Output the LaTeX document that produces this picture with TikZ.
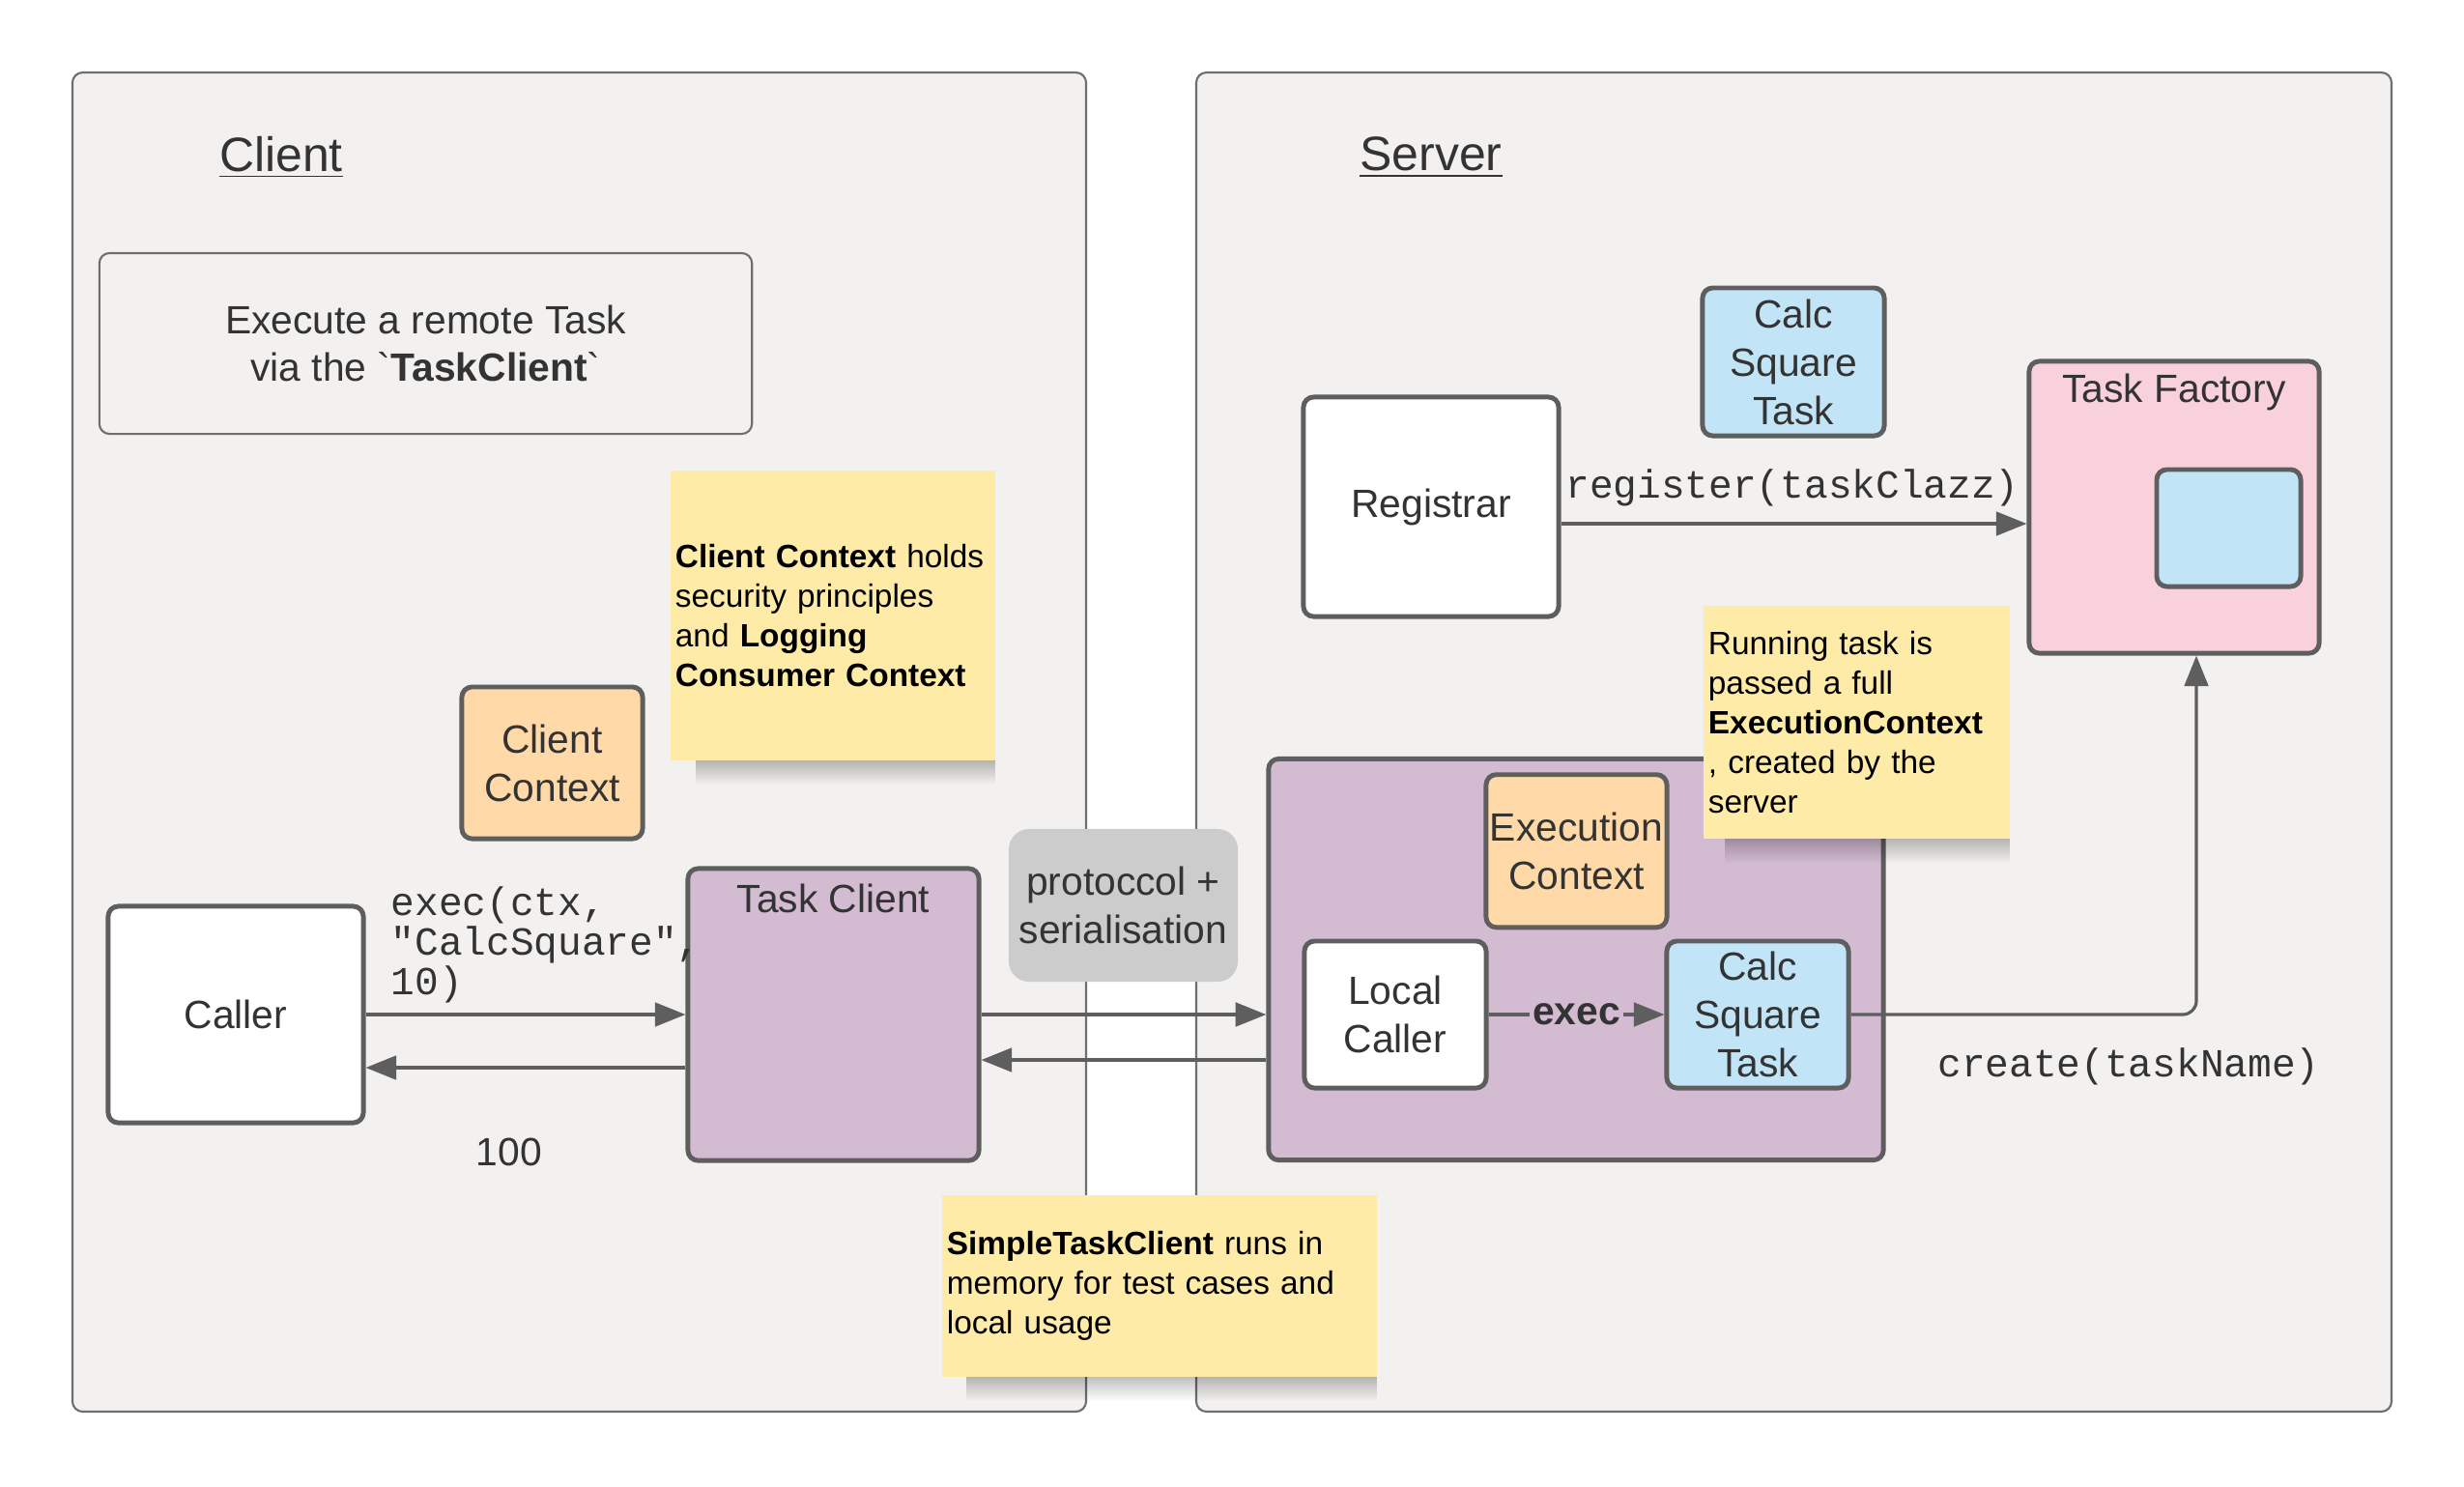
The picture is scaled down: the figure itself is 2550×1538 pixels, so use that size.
\documentclass[tikz,border=0pt]{standalone}
\usepackage{fontspec}
\setmainfont{Liberation Sans}
\setmonofont{Liberation Mono}
\usetikzlibrary{arrows.meta}
\usetikzlibrary{fadings}

\definecolor{panelfill}{HTML}{F2F1EF}
\definecolor{panelline}{HTML}{6E6E6E}
\definecolor{boxline}{HTML}{5E5E5E}
\definecolor{textgray}{HTML}{333333}
\definecolor{lavender}{HTML}{D3BBD2}
\definecolor{peach}{HTML}{FFDAA8}
\definecolor{skyblue}{HTML}{C1E4F6}
\definecolor{pinkbox}{HTML}{F9D1DD}
\definecolor{notey}{HTML}{FFEBA8}
\definecolor{protogray}{HTML}{CCCCCC}

\tikzset{
  panel/.style={draw=panelline, fill=panelfill, line width=0.6pt, rounded corners=3pt},
  blok/.style={draw=boxline, line width=1.4pt, rounded corners=3pt, text=textgray,
    align=center, inner sep=0pt, font=\fontsize{11.6}{14.2}\selectfont},
  lbl/.style={text=textgray, inner sep=0pt, font=\fontsize{11.6}{14.2}\selectfont},
  title/.style={text=textgray, inner sep=0pt, font=\fontsize{14.2}{17}\selectfont},
  note/.style={fill=notey, align=left, inner xsep=0.05cm, inner ysep=0.09cm, text=black,
    font=\fontsize{9.5}{11.66}\selectfont},
  code/.style={text=textgray, inner sep=0pt, font=\ttfamily\fontsize{11.7}{11.66}\selectfont},
  flow/.style={draw=boxline, line width=0.9pt}
}

\begin{document}
\begin{tikzpicture}[x=0.01cm,y=-0.01cm,line join=round,
>={Triangle[length=9pt,width=7pt]}]
\useasboundingbox (0,0) rectangle (2550,1538);

% Client and Server panels
\draw[panel] (75,75) rectangle (1124,1461);
\draw[panel] (1238,75) rectangle (2475,1461);
\node[title] (clienthead) at (291,163) {\underline{Client}};
\node[title] (serverhead) at (1481,163) {\underline{Server}};

% client side
\node[draw=panelline, line width=0.6pt, rounded corners=3pt, align=center, text=textgray,
  font=\fontsize{11.6}{13.9}\selectfont, minimum width=6.75cm, minimum height=1.87cm]
  (goal) at (440.5,355.5) {Execute a remote Task\\via the \textasciigrave\textbf{TaskClient}\textasciigrave};
\node[blok, fill=peach, minimum width=1.87cm, minimum height=1.57cm] (cctx) at (571.5,789.5) {Client\\Context};
\node[blok, fill=white, minimum width=2.64cm, minimum height=2.24cm] (caller) at (244,1050) {Caller};
\node[blok, fill=lavender, minimum width=3.01cm, minimum height=3.02cm,
  label={[lbl, anchor=center, yshift=-0.33cm]north:Task Client}] (tclient) at (862.5,1050) {};
\node[fill=protogray, rounded corners=6pt, align=center, text=textgray, inner sep=0pt,
  font=\fontsize{11.6}{14.4}\selectfont, minimum width=2.37cm, minimum height=1.58cm]
  (proto) at (1162.5,937) {protoccol +\\serialisation};

% server side
\node[blok, fill=skyblue, minimum width=1.88cm, minimum height=1.53cm] (calctop) at (1856,374.5) {Calc\\Square\\Task};
\node[blok, fill=white, minimum width=2.64cm, minimum height=2.27cm] (registrar) at (1481,524.5) {Registrar};
\node[blok, fill=pinkbox, minimum width=3.0cm, minimum height=3.02cm,
  label={[lbl, anchor=center, yshift=-0.34cm]north:Task Factory}] (factory) at (2250,525) {};
\node[blok, fill=skyblue, minimum width=1.49cm, minimum height=1.21cm] (slot) at (2306.5,546.5) {};
\node[blok, fill=lavender, minimum width=6.36cm, minimum height=4.15cm] (runner) at (1631,993) {};
\node[blok, fill=peach, minimum width=1.87cm, minimum height=1.58cm] (ectx) at (1631.5,880.75) {Execution\\Context};
\node[blok, fill=white, minimum width=1.88cm, minimum height=1.52cm] (lcaller) at (1444,1050) {Local\\Caller};
\node[blok, fill=skyblue, minimum width=1.88cm, minimum height=1.52cm] (calcin) at (1819,1050) {Calc\\Square\\Task};

% sticky notes with their shadows
\fill[black, opacity=.25, path fading=south] (720,787) rectangle (1030,812);
\fill[black, opacity=.25, path fading=south] (1785,868) rectangle (2080,893);
\fill[black, opacity=.25, path fading=south] (1000,1425) rectangle (1425,1450);
\node[note, text width=3.26cm, minimum height=3.0cm] (ccnote) at (862,637)
  {\textbf{Client Context} holds\\security principles\\and \textbf{Logging}\\\textbf{Consumer Context}};
\node[note, text width=3.07cm, minimum height=2.41cm] (ecnote) at (1921.5,747.5)
  {Running task is\\passed a full\\\textbf{ExecutionContext}\\, created by the\\server};
\node[note, text width=4.4cm, minimum height=1.88cm] (stcnote) at (1200,1331)
  {\textbf{SimpleTaskClient} runs in\\memory for test cases and\\local usage};

% connectors
\draw[flow,->] (caller.east) -- (tclient.west);
\draw[flow,->] (tclient.west |- 0,1105) -- (caller.east |- 0,1105);
\draw[flow,->] (tclient.east) -- (runner.west |- tclient.east);
\draw[flow,->] (runner.west |- 0,1097) -- (tclient.east |- 0,1097);
\draw[flow,->] (lcaller) -- node[fill=lavender, text=textgray, inner sep=1pt,
  font=\bfseries\fontsize{11.6}{14.2}\selectfont] (execword) {exec} (calcin);
\draw[flow,->] (registrar.east |- 0,542) -- (factory.west |- 0,542);
\draw[flow,->,rounded corners=4pt] (calcin.east) -| (factory.south -| 2273,0);

% call labels
\node[code, anchor=west, align=left] (execlbl) at (404,978) {exec(ctx,\\"CalcSquare",\\10)};
\node[lbl] (result) at (527,1192) {100};
\node[code] (reglbl) at (1855,505) {register(taskClazz)};
\node[code] (createlbl) at (2203,1103.5) {create(taskName)};

\end{tikzpicture}
\end{document}
